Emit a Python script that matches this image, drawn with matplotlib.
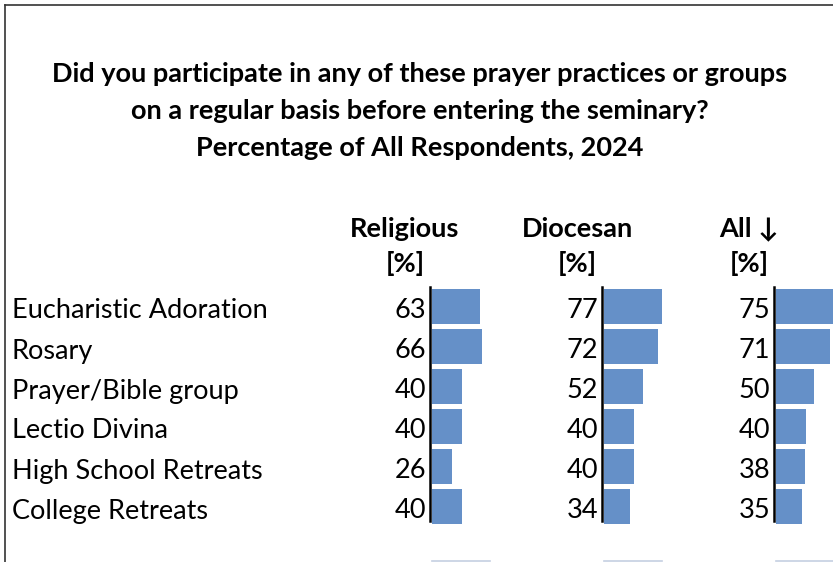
import matplotlib
matplotlib.use("Agg")
import matplotlib.pyplot as plt
from matplotlib.lines import Line2D

plt.rcParams['font.family'] = ['Lato', 'DejaVu Sans']

W, H = 833, 562

title_lines = [
    "Did you participate in any of these prayer practices or groups",
    "on a regular basis before entering the seminary?",
    "Percentage of All Respondents, 2024",
]
practices = ["Eucharistic Adoration", "Rosary", "Prayer/Bible group",
             "Lectio Divina", "High School Retreats", "College Retreats"]
groups = ["Religious", "Diocesan", "All \u2193"]
religious = [63, 66, 40, 40, 26, 40]
diocesan = [77, 72, 52, 40, 40, 34]
all_resp = [75, 71, 50, 40, 38, 35]

bar_color = "#6590c8"
fs = 19.5


def fx(x):
    return x / W


def fy(y):
    return 1 - y / H


fig = plt.figure(figsize=(W / 100, H / 100), dpi=100)

# frame on top and left
fig.add_artist(Line2D([fx(4.5), fx(4.5)], [0, fy(4.5)], color="#333333", lw=1.2))
fig.add_artist(Line2D([fx(4.5), 1], [fy(4.5), fy(4.5)], color="#333333", lw=1.2))

for i, line in enumerate(title_lines):
    fig.text(fx(420), fy(81.7 + 37.2 * i), line, ha="center", va="baseline",
             fontsize=fs, fontweight="bold")

rows = list(range(len(practices)))
spines = [430, 602, 774]
for name, vals, sx in zip(groups, [religious, diocesan, all_resp], spines):
    ax = fig.add_axes([fx(sx + 2), fy(526.5), fx(75.5), 240 / H])
    ax.barh(rows, vals, height=0.87, color=bar_color)
    ax.set_xlim(0, 100)
    ax.set_ylim(5.5, -0.5)
    ax.axis("off")
    ax.add_line(Line2D([-2.6, -2.6], [-0.5, 5.35], color="black", lw=1.8,
                       clip_on=False))
    for r, v in zip(rows, vals):
        ax.text(-8, r + 0.3, str(v), ha="right", va="baseline", fontsize=fs)
    fig.text(fx(sx - 25), fy(236.7), name, ha="center", va="baseline",
             fontsize=fs, fontweight="bold")
    fig.text(fx(sx - 25), fy(271.5), "[%]", ha="center", va="baseline",
             fontsize=fs, fontweight="bold")
    # top edge of the next row peeking in at the bottom
    fig.add_artist(Line2D([fx(sx + 2), fx(sx + 60)], [fy(561), fy(561)],
                          color="#c5cfe2", lw=1.2))

for r, label in enumerate(practices):
    fig.text(fx(12), fy(318.5 + 40 * r), label, ha="left", va="baseline",
             fontsize=fs)

fig.savefig("out.png", dpi=100)
